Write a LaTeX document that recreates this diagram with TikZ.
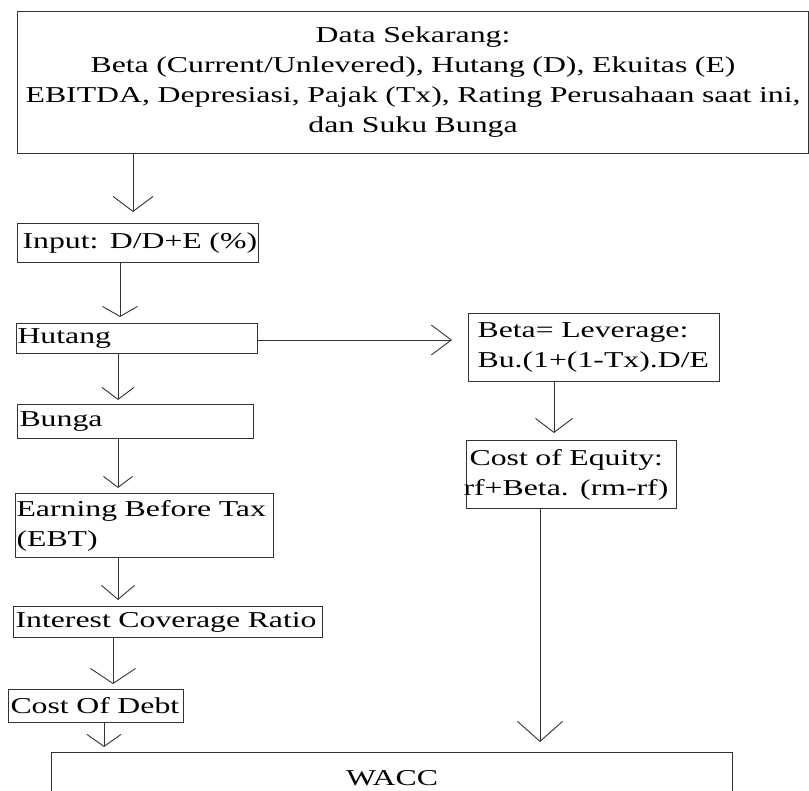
\documentclass[tikz,border=0pt]{standalone}
\usepackage{fontspec}
\setmainfont[FakeStretch=1.4]{Liberation Serif}
\usetikzlibrary{arrows.meta}
\begin{document}
\begin{tikzpicture}[x=1pt,y=-1pt,
  font=\fontsize{22.7pt}{30pt}\selectfont,
  frame/.style={draw=black!80, line width=1.1pt, anchor=north west,
    inner xsep=0pt, inner ysep=0pt, align=left},
  conn/.style={draw=black!80, line width=0.9pt},
  tip/.style n args={2}{-{Straight Barb[length=#1pt,width=#2pt]}}
]
\useasboundingbox (0,0) rectangle (809,791);
\clip (0,0) rectangle (809,791);

\node[frame, align=center, text width=791pt, minimum height=142pt] (top) at (17,11)
  {Data Sekarang:\\
   Beta (Current/Unlevered), Hutang (D), Ekuitas (E)\\
   EBITDA, Depresiasi, Pajak (Tx), Rating Perusahaan saat ini,\\
   dan Suku Bunga};

\node[frame, text width=241pt, minimum height=39pt] (input) at (17,223)
  {\hspace*{5pt}\mbox{Input: D/D+E (\%)}};
\node[frame, text width=241pt, minimum height=30pt] (hutang) at (16,323)
  {\hspace*{1pt}\mbox{Hutang}};
\node[frame, text width=236pt, minimum height=34pt] (bunga) at (17,404)
  {\hspace*{2pt}\mbox{Bunga}};
\node[frame, text width=258pt, minimum height=64pt] (ebt) at (15,493)
  {\hspace*{1pt}\mbox{Earning Before Tax}\\\hspace*{1pt}\mbox{(EBT)}};
\node[frame, text width=309pt, minimum height=31pt] (icr) at (13,606)
  {\hspace*{2pt}\mbox{Interest Coverage Ratio}};
\node[frame, text width=175pt, minimum height=33pt] (cod) at (8,689)
  {\hspace*{2pt}\mbox{Cost Of Debt}};
\node[frame, text width=251pt, minimum height=68pt] (beta) at (468,313)
  {\hspace*{9pt}\mbox{Beta= Leverage:}\\\hspace*{9pt}\mbox{Bu.(1+(1-Tx).D/E}};
\node[frame, text width=210pt, minimum height=68pt] (coe) at (466,440)
  {\hspace*{3pt}\mbox{Cost of Equity:}\\\hspace*{-3pt}\mbox{rf+Beta. (rm-rf)}};
\node[frame, align=center, text width=681pt, minimum height=52pt] (wacc) at (51,752)
  {WACC};

\draw[conn, tip={15}{40}, shorten >=11pt] (top.south -| 133,0) -- (input.north -| 133,0);
\draw[conn, tip={10}{35}, shorten >=6pt] (input.south -| 120,0) -- (hutang.north -| 120,0);
\draw[conn, tip={12}{32}, shorten >=4pt] (hutang.south -| 118,0) -- (bunga.north -| 118,0);
\draw[conn, tip={11}{29}, shorten >=5pt] (bunga.south -| 118,0) -- (ebt.north -| 118,0);
\draw[conn, tip={14}{33}, shorten >=6pt] (ebt.south -| 118,0) -- (icr.north -| 118,0);
\draw[conn, tip={15}{45}, shorten >=5pt] (icr.south -| 113,0) -- (cod.north -| 113,0);
\draw[conn, tip={12}{34}, shorten >=5pt] (cod.south -| 104,0) -- (wacc.north -| 104,0);
\draw[conn, tip={20}{30}, shorten >=16pt] (hutang.east |- 0,340) -- (beta.west |- 0,340);
\draw[conn, tip={14}{37}, shorten >=7pt] (beta.south -| 554,0) -- (coe.north -| 554,0);
\draw[conn, tip={20}{45}, shorten >=10pt] (coe.south -| 540,0) -- (wacc.north -| 540,0);
\end{tikzpicture}
\end{document}
